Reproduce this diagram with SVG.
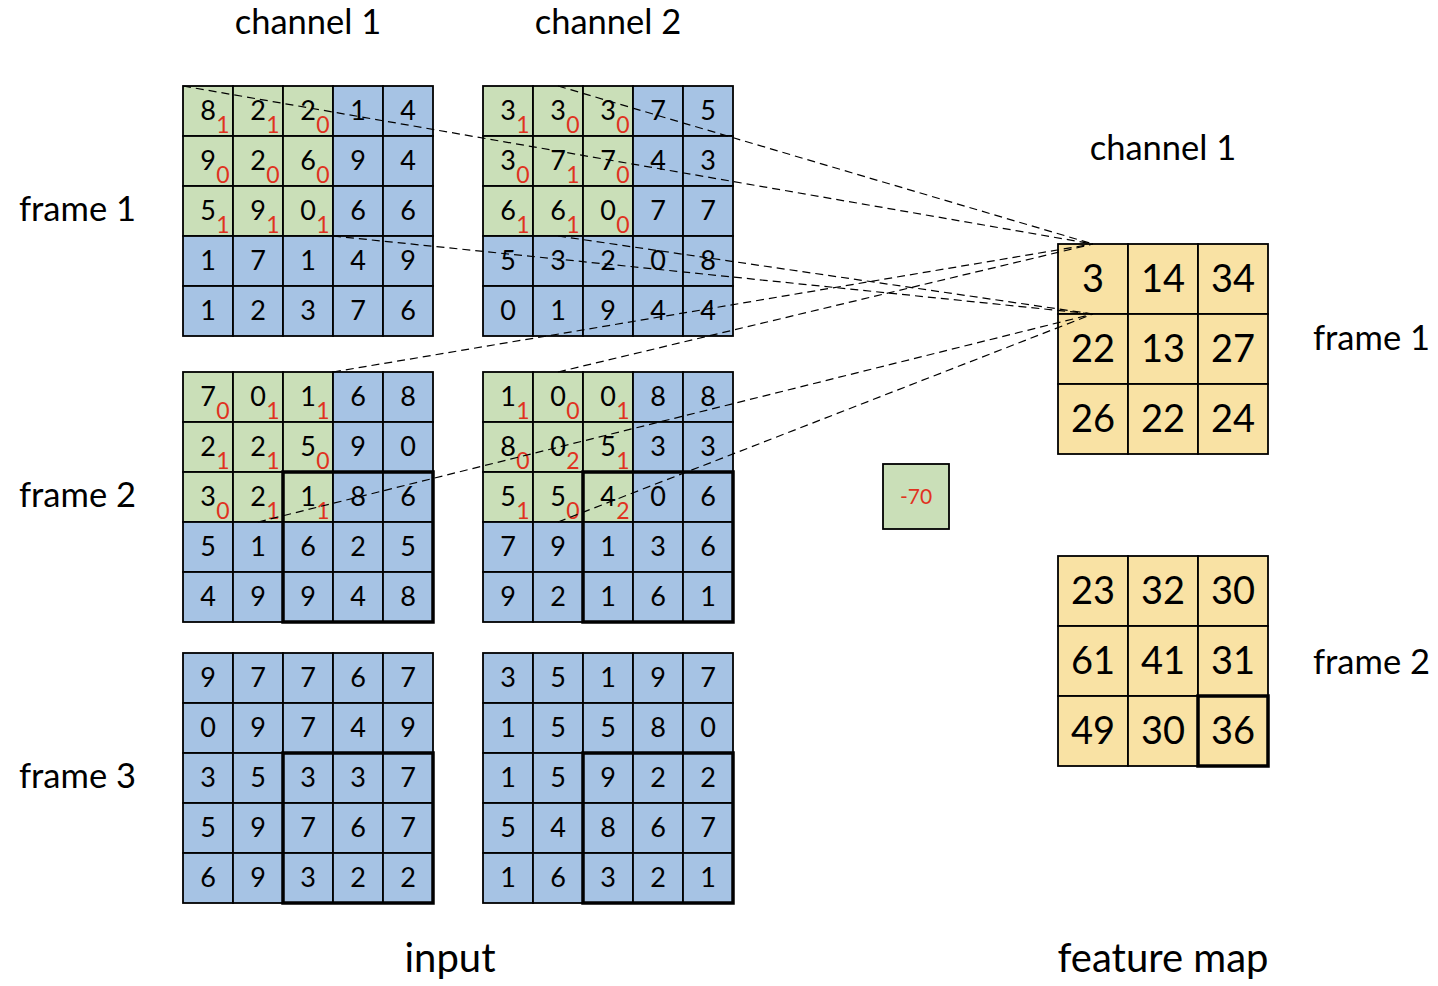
<svg xmlns="http://www.w3.org/2000/svg" width="1438" height="986" viewBox="0 0 1438 986">
<style>
text{font-family:Lato,"Liberation Sans",sans-serif;fill:#000}
.b{fill:#A6C3E4;stroke:#000;stroke-width:1.8}
.g{fill:#CADFB8;stroke:#000;stroke-width:1.8}
.y{fill:#F9E2A4;stroke:#000;stroke-width:1.8}
.thick{fill:none;stroke:#000;stroke-width:3.5}
.d{font-size:27px;text-anchor:middle}
.s{font-size:23px;text-anchor:middle;fill:#E0321F}
.f{font-size:38px;text-anchor:middle}
.lbl{font-size:34.5px}
.big{font-size:40px;text-anchor:middle}
.con line{stroke:#000;stroke-width:1.2;stroke-dasharray:8,5;fill:none}
</style>
<g id="labels">
<text class="lbl" x="308" y="34" text-anchor="middle">channel 1</text>
<text class="lbl" x="608" y="34" text-anchor="middle">channel 2</text>
<text class="lbl" x="1163" y="160" text-anchor="middle">channel 1</text>
<text class="lbl" x="19" y="221">frame 1</text>
<text class="lbl" x="19" y="507">frame 2</text>
<text class="lbl" x="19" y="788">frame 3</text>
<text class="lbl" x="1313" y="350">frame 1</text>
<text class="lbl" x="1313" y="674">frame 2</text>
<text class="big" x="450" y="972">input</text>
<text class="big" x="1163" y="972">feature map</text>
</g>
<g id="f1c1" transform="translate(183,86)">
<rect class="g" x="0" y="0" width="50" height="50"/><rect class="g" x="50" y="0" width="50" height="50"/><rect class="g" x="100" y="0" width="50" height="50"/><rect class="b" x="150" y="0" width="50" height="50"/><rect class="b" x="200" y="0" width="50" height="50"/>
<rect class="g" x="0" y="50" width="50" height="50"/><rect class="g" x="50" y="50" width="50" height="50"/><rect class="g" x="100" y="50" width="50" height="50"/><rect class="b" x="150" y="50" width="50" height="50"/><rect class="b" x="200" y="50" width="50" height="50"/>
<rect class="g" x="0" y="100" width="50" height="50"/><rect class="g" x="50" y="100" width="50" height="50"/><rect class="g" x="100" y="100" width="50" height="50"/><rect class="b" x="150" y="100" width="50" height="50"/><rect class="b" x="200" y="100" width="50" height="50"/>
<rect class="b" x="0" y="150" width="50" height="50"/><rect class="b" x="50" y="150" width="50" height="50"/><rect class="b" x="100" y="150" width="50" height="50"/><rect class="b" x="150" y="150" width="50" height="50"/><rect class="b" x="200" y="150" width="50" height="50"/>
<rect class="b" x="0" y="200" width="50" height="50"/><rect class="b" x="50" y="200" width="50" height="50"/><rect class="b" x="100" y="200" width="50" height="50"/><rect class="b" x="150" y="200" width="50" height="50"/><rect class="b" x="200" y="200" width="50" height="50"/>
<text class="d" x="25" y="34">8</text><text class="d" x="75" y="34">2</text><text class="d" x="125" y="34">2</text><text class="d" x="175" y="34">1</text><text class="d" x="225" y="34">4</text>
<text class="d" x="25" y="84">9</text><text class="d" x="75" y="84">2</text><text class="d" x="125" y="84">6</text><text class="d" x="175" y="84">9</text><text class="d" x="225" y="84">4</text>
<text class="d" x="25" y="134">5</text><text class="d" x="75" y="134">9</text><text class="d" x="125" y="134">0</text><text class="d" x="175" y="134">6</text><text class="d" x="225" y="134">6</text>
<text class="d" x="25" y="184">1</text><text class="d" x="75" y="184">7</text><text class="d" x="125" y="184">1</text><text class="d" x="175" y="184">4</text><text class="d" x="225" y="184">9</text>
<text class="d" x="25" y="234">1</text><text class="d" x="75" y="234">2</text><text class="d" x="125" y="234">3</text><text class="d" x="175" y="234">7</text><text class="d" x="225" y="234">6</text>
<text class="s" x="40" y="47">1</text><text class="s" x="90" y="47">1</text><text class="s" x="140" y="47">0</text>
<text class="s" x="40" y="97">0</text><text class="s" x="90" y="97">0</text><text class="s" x="140" y="97">0</text>
<text class="s" x="40" y="147">1</text><text class="s" x="90" y="147">1</text><text class="s" x="140" y="147">1</text>
</g>
<g id="f1c2" transform="translate(483,86)">
<rect class="g" x="0" y="0" width="50" height="50"/><rect class="g" x="50" y="0" width="50" height="50"/><rect class="g" x="100" y="0" width="50" height="50"/><rect class="b" x="150" y="0" width="50" height="50"/><rect class="b" x="200" y="0" width="50" height="50"/>
<rect class="g" x="0" y="50" width="50" height="50"/><rect class="g" x="50" y="50" width="50" height="50"/><rect class="g" x="100" y="50" width="50" height="50"/><rect class="b" x="150" y="50" width="50" height="50"/><rect class="b" x="200" y="50" width="50" height="50"/>
<rect class="g" x="0" y="100" width="50" height="50"/><rect class="g" x="50" y="100" width="50" height="50"/><rect class="g" x="100" y="100" width="50" height="50"/><rect class="b" x="150" y="100" width="50" height="50"/><rect class="b" x="200" y="100" width="50" height="50"/>
<rect class="b" x="0" y="150" width="50" height="50"/><rect class="b" x="50" y="150" width="50" height="50"/><rect class="b" x="100" y="150" width="50" height="50"/><rect class="b" x="150" y="150" width="50" height="50"/><rect class="b" x="200" y="150" width="50" height="50"/>
<rect class="b" x="0" y="200" width="50" height="50"/><rect class="b" x="50" y="200" width="50" height="50"/><rect class="b" x="100" y="200" width="50" height="50"/><rect class="b" x="150" y="200" width="50" height="50"/><rect class="b" x="200" y="200" width="50" height="50"/>
<text class="d" x="25" y="34">3</text><text class="d" x="75" y="34">3</text><text class="d" x="125" y="34">3</text><text class="d" x="175" y="34">7</text><text class="d" x="225" y="34">5</text>
<text class="d" x="25" y="84">3</text><text class="d" x="75" y="84">7</text><text class="d" x="125" y="84">7</text><text class="d" x="175" y="84">4</text><text class="d" x="225" y="84">3</text>
<text class="d" x="25" y="134">6</text><text class="d" x="75" y="134">6</text><text class="d" x="125" y="134">0</text><text class="d" x="175" y="134">7</text><text class="d" x="225" y="134">7</text>
<text class="d" x="25" y="184">5</text><text class="d" x="75" y="184">3</text><text class="d" x="125" y="184">2</text><text class="d" x="175" y="184">0</text><text class="d" x="225" y="184">8</text>
<text class="d" x="25" y="234">0</text><text class="d" x="75" y="234">1</text><text class="d" x="125" y="234">9</text><text class="d" x="175" y="234">4</text><text class="d" x="225" y="234">4</text>
<text class="s" x="40" y="47">1</text><text class="s" x="90" y="47">0</text><text class="s" x="140" y="47">0</text>
<text class="s" x="40" y="97">0</text><text class="s" x="90" y="97">1</text><text class="s" x="140" y="97">0</text>
<text class="s" x="40" y="147">1</text><text class="s" x="90" y="147">1</text><text class="s" x="140" y="147">0</text>
</g>
<g id="f2c1" transform="translate(183,372)">
<rect class="g" x="0" y="0" width="50" height="50"/><rect class="g" x="50" y="0" width="50" height="50"/><rect class="g" x="100" y="0" width="50" height="50"/><rect class="b" x="150" y="0" width="50" height="50"/><rect class="b" x="200" y="0" width="50" height="50"/>
<rect class="g" x="0" y="50" width="50" height="50"/><rect class="g" x="50" y="50" width="50" height="50"/><rect class="g" x="100" y="50" width="50" height="50"/><rect class="b" x="150" y="50" width="50" height="50"/><rect class="b" x="200" y="50" width="50" height="50"/>
<rect class="g" x="0" y="100" width="50" height="50"/><rect class="g" x="50" y="100" width="50" height="50"/><rect class="g" x="100" y="100" width="50" height="50"/><rect class="b" x="150" y="100" width="50" height="50"/><rect class="b" x="200" y="100" width="50" height="50"/>
<rect class="b" x="0" y="150" width="50" height="50"/><rect class="b" x="50" y="150" width="50" height="50"/><rect class="b" x="100" y="150" width="50" height="50"/><rect class="b" x="150" y="150" width="50" height="50"/><rect class="b" x="200" y="150" width="50" height="50"/>
<rect class="b" x="0" y="200" width="50" height="50"/><rect class="b" x="50" y="200" width="50" height="50"/><rect class="b" x="100" y="200" width="50" height="50"/><rect class="b" x="150" y="200" width="50" height="50"/><rect class="b" x="200" y="200" width="50" height="50"/>
<rect class="thick" x="100" y="100" width="150" height="150"/>
<text class="d" x="25" y="34">7</text><text class="d" x="75" y="34">0</text><text class="d" x="125" y="34">1</text><text class="d" x="175" y="34">6</text><text class="d" x="225" y="34">8</text>
<text class="d" x="25" y="84">2</text><text class="d" x="75" y="84">2</text><text class="d" x="125" y="84">5</text><text class="d" x="175" y="84">9</text><text class="d" x="225" y="84">0</text>
<text class="d" x="25" y="134">3</text><text class="d" x="75" y="134">2</text><text class="d" x="125" y="134">1</text><text class="d" x="175" y="134">8</text><text class="d" x="225" y="134">6</text>
<text class="d" x="25" y="184">5</text><text class="d" x="75" y="184">1</text><text class="d" x="125" y="184">6</text><text class="d" x="175" y="184">2</text><text class="d" x="225" y="184">5</text>
<text class="d" x="25" y="234">4</text><text class="d" x="75" y="234">9</text><text class="d" x="125" y="234">9</text><text class="d" x="175" y="234">4</text><text class="d" x="225" y="234">8</text>
<text class="s" x="40" y="47">0</text><text class="s" x="90" y="47">1</text><text class="s" x="140" y="47">1</text>
<text class="s" x="40" y="97">1</text><text class="s" x="90" y="97">1</text><text class="s" x="140" y="97">0</text>
<text class="s" x="40" y="147">0</text><text class="s" x="90" y="147">1</text><text class="s" x="140" y="147">1</text>
</g>
<g id="f2c2" transform="translate(483,372)">
<rect class="g" x="0" y="0" width="50" height="50"/><rect class="g" x="50" y="0" width="50" height="50"/><rect class="g" x="100" y="0" width="50" height="50"/><rect class="b" x="150" y="0" width="50" height="50"/><rect class="b" x="200" y="0" width="50" height="50"/>
<rect class="g" x="0" y="50" width="50" height="50"/><rect class="g" x="50" y="50" width="50" height="50"/><rect class="g" x="100" y="50" width="50" height="50"/><rect class="b" x="150" y="50" width="50" height="50"/><rect class="b" x="200" y="50" width="50" height="50"/>
<rect class="g" x="0" y="100" width="50" height="50"/><rect class="g" x="50" y="100" width="50" height="50"/><rect class="g" x="100" y="100" width="50" height="50"/><rect class="b" x="150" y="100" width="50" height="50"/><rect class="b" x="200" y="100" width="50" height="50"/>
<rect class="b" x="0" y="150" width="50" height="50"/><rect class="b" x="50" y="150" width="50" height="50"/><rect class="b" x="100" y="150" width="50" height="50"/><rect class="b" x="150" y="150" width="50" height="50"/><rect class="b" x="200" y="150" width="50" height="50"/>
<rect class="b" x="0" y="200" width="50" height="50"/><rect class="b" x="50" y="200" width="50" height="50"/><rect class="b" x="100" y="200" width="50" height="50"/><rect class="b" x="150" y="200" width="50" height="50"/><rect class="b" x="200" y="200" width="50" height="50"/>
<rect class="thick" x="100" y="100" width="150" height="150"/>
<text class="d" x="25" y="34">1</text><text class="d" x="75" y="34">0</text><text class="d" x="125" y="34">0</text><text class="d" x="175" y="34">8</text><text class="d" x="225" y="34">8</text>
<text class="d" x="25" y="84">8</text><text class="d" x="75" y="84">0</text><text class="d" x="125" y="84">5</text><text class="d" x="175" y="84">3</text><text class="d" x="225" y="84">3</text>
<text class="d" x="25" y="134">5</text><text class="d" x="75" y="134">5</text><text class="d" x="125" y="134">4</text><text class="d" x="175" y="134">0</text><text class="d" x="225" y="134">6</text>
<text class="d" x="25" y="184">7</text><text class="d" x="75" y="184">9</text><text class="d" x="125" y="184">1</text><text class="d" x="175" y="184">3</text><text class="d" x="225" y="184">6</text>
<text class="d" x="25" y="234">9</text><text class="d" x="75" y="234">2</text><text class="d" x="125" y="234">1</text><text class="d" x="175" y="234">6</text><text class="d" x="225" y="234">1</text>
<text class="s" x="40" y="47">1</text><text class="s" x="90" y="47">0</text><text class="s" x="140" y="47">1</text>
<text class="s" x="40" y="97">0</text><text class="s" x="90" y="97">2</text><text class="s" x="140" y="97">1</text>
<text class="s" x="40" y="147">1</text><text class="s" x="90" y="147">0</text><text class="s" x="140" y="147">2</text>
</g>
<g id="f3c1" transform="translate(183,653)">
<rect class="b" x="0" y="0" width="50" height="50"/><rect class="b" x="50" y="0" width="50" height="50"/><rect class="b" x="100" y="0" width="50" height="50"/><rect class="b" x="150" y="0" width="50" height="50"/><rect class="b" x="200" y="0" width="50" height="50"/>
<rect class="b" x="0" y="50" width="50" height="50"/><rect class="b" x="50" y="50" width="50" height="50"/><rect class="b" x="100" y="50" width="50" height="50"/><rect class="b" x="150" y="50" width="50" height="50"/><rect class="b" x="200" y="50" width="50" height="50"/>
<rect class="b" x="0" y="100" width="50" height="50"/><rect class="b" x="50" y="100" width="50" height="50"/><rect class="b" x="100" y="100" width="50" height="50"/><rect class="b" x="150" y="100" width="50" height="50"/><rect class="b" x="200" y="100" width="50" height="50"/>
<rect class="b" x="0" y="150" width="50" height="50"/><rect class="b" x="50" y="150" width="50" height="50"/><rect class="b" x="100" y="150" width="50" height="50"/><rect class="b" x="150" y="150" width="50" height="50"/><rect class="b" x="200" y="150" width="50" height="50"/>
<rect class="b" x="0" y="200" width="50" height="50"/><rect class="b" x="50" y="200" width="50" height="50"/><rect class="b" x="100" y="200" width="50" height="50"/><rect class="b" x="150" y="200" width="50" height="50"/><rect class="b" x="200" y="200" width="50" height="50"/>
<rect class="thick" x="100" y="100" width="150" height="150"/>
<text class="d" x="25" y="34">9</text><text class="d" x="75" y="34">7</text><text class="d" x="125" y="34">7</text><text class="d" x="175" y="34">6</text><text class="d" x="225" y="34">7</text>
<text class="d" x="25" y="84">0</text><text class="d" x="75" y="84">9</text><text class="d" x="125" y="84">7</text><text class="d" x="175" y="84">4</text><text class="d" x="225" y="84">9</text>
<text class="d" x="25" y="134">3</text><text class="d" x="75" y="134">5</text><text class="d" x="125" y="134">3</text><text class="d" x="175" y="134">3</text><text class="d" x="225" y="134">7</text>
<text class="d" x="25" y="184">5</text><text class="d" x="75" y="184">9</text><text class="d" x="125" y="184">7</text><text class="d" x="175" y="184">6</text><text class="d" x="225" y="184">7</text>
<text class="d" x="25" y="234">6</text><text class="d" x="75" y="234">9</text><text class="d" x="125" y="234">3</text><text class="d" x="175" y="234">2</text><text class="d" x="225" y="234">2</text>
</g>
<g id="f3c2" transform="translate(483,653)">
<rect class="b" x="0" y="0" width="50" height="50"/><rect class="b" x="50" y="0" width="50" height="50"/><rect class="b" x="100" y="0" width="50" height="50"/><rect class="b" x="150" y="0" width="50" height="50"/><rect class="b" x="200" y="0" width="50" height="50"/>
<rect class="b" x="0" y="50" width="50" height="50"/><rect class="b" x="50" y="50" width="50" height="50"/><rect class="b" x="100" y="50" width="50" height="50"/><rect class="b" x="150" y="50" width="50" height="50"/><rect class="b" x="200" y="50" width="50" height="50"/>
<rect class="b" x="0" y="100" width="50" height="50"/><rect class="b" x="50" y="100" width="50" height="50"/><rect class="b" x="100" y="100" width="50" height="50"/><rect class="b" x="150" y="100" width="50" height="50"/><rect class="b" x="200" y="100" width="50" height="50"/>
<rect class="b" x="0" y="150" width="50" height="50"/><rect class="b" x="50" y="150" width="50" height="50"/><rect class="b" x="100" y="150" width="50" height="50"/><rect class="b" x="150" y="150" width="50" height="50"/><rect class="b" x="200" y="150" width="50" height="50"/>
<rect class="b" x="0" y="200" width="50" height="50"/><rect class="b" x="50" y="200" width="50" height="50"/><rect class="b" x="100" y="200" width="50" height="50"/><rect class="b" x="150" y="200" width="50" height="50"/><rect class="b" x="200" y="200" width="50" height="50"/>
<rect class="thick" x="100" y="100" width="150" height="150"/>
<text class="d" x="25" y="34">3</text><text class="d" x="75" y="34">5</text><text class="d" x="125" y="34">1</text><text class="d" x="175" y="34">9</text><text class="d" x="225" y="34">7</text>
<text class="d" x="25" y="84">1</text><text class="d" x="75" y="84">5</text><text class="d" x="125" y="84">5</text><text class="d" x="175" y="84">8</text><text class="d" x="225" y="84">0</text>
<text class="d" x="25" y="134">1</text><text class="d" x="75" y="134">5</text><text class="d" x="125" y="134">9</text><text class="d" x="175" y="134">2</text><text class="d" x="225" y="134">2</text>
<text class="d" x="25" y="184">5</text><text class="d" x="75" y="184">4</text><text class="d" x="125" y="184">8</text><text class="d" x="175" y="184">6</text><text class="d" x="225" y="184">7</text>
<text class="d" x="25" y="234">1</text><text class="d" x="75" y="234">6</text><text class="d" x="125" y="234">3</text><text class="d" x="175" y="234">2</text><text class="d" x="225" y="234">1</text>
</g>
<g id="bias">
<rect class="g" x="883" y="464" width="66" height="65"/>
<text x="916" y="504" font-size="21" text-anchor="middle" style="fill:#E0321F">-70</text>
</g>
<g id="fm1" transform="translate(1058,244)">
<rect class="y" x="0" y="0" width="70" height="70"/><rect class="y" x="70" y="0" width="70" height="70"/><rect class="y" x="140" y="0" width="70" height="70"/>
<rect class="y" x="0" y="70" width="70" height="70"/><rect class="y" x="70" y="70" width="70" height="70"/><rect class="y" x="140" y="70" width="70" height="70"/>
<rect class="y" x="0" y="140" width="70" height="70"/><rect class="y" x="70" y="140" width="70" height="70"/><rect class="y" x="140" y="140" width="70" height="70"/>
<text class="f" x="35" y="48">3</text><text class="f" x="105" y="48">14</text><text class="f" x="175" y="48">34</text>
<text class="f" x="35" y="118">22</text><text class="f" x="105" y="118">13</text><text class="f" x="175" y="118">27</text>
<text class="f" x="35" y="188">26</text><text class="f" x="105" y="188">22</text><text class="f" x="175" y="188">24</text>
</g>
<g id="fm2" transform="translate(1058,556)">
<rect class="y" x="0" y="0" width="70" height="70"/><rect class="y" x="70" y="0" width="70" height="70"/><rect class="y" x="140" y="0" width="70" height="70"/>
<rect class="y" x="0" y="70" width="70" height="70"/><rect class="y" x="70" y="70" width="70" height="70"/><rect class="y" x="140" y="70" width="70" height="70"/>
<rect class="y" x="0" y="140" width="70" height="70"/><rect class="y" x="70" y="140" width="70" height="70"/><rect class="y" x="140" y="140" width="70" height="70"/>
<rect class="thick" x="140" y="140" width="70" height="70"/>
<text class="f" x="35" y="48">23</text><text class="f" x="105" y="48">32</text><text class="f" x="175" y="48">30</text>
<text class="f" x="35" y="118">61</text><text class="f" x="105" y="118">41</text><text class="f" x="175" y="118">31</text>
<text class="f" x="35" y="188">49</text><text class="f" x="105" y="188">30</text><text class="f" x="175" y="188">36</text>
</g>
<g id="connectors" class="con">
<line x1="183" y1="86" x2="1093" y2="244"/>
<line x1="558" y1="86" x2="1093" y2="244"/>
<line x1="333" y1="372" x2="1093" y2="244"/>
<line x1="558" y1="372" x2="1093" y2="244"/>
<line x1="333" y1="236" x2="1093" y2="314"/>
<line x1="558" y1="236" x2="1093" y2="314"/>
<line x1="258" y1="522" x2="1093" y2="314"/>
<line x1="558" y1="522" x2="1093" y2="314"/>
</g>
</svg>
